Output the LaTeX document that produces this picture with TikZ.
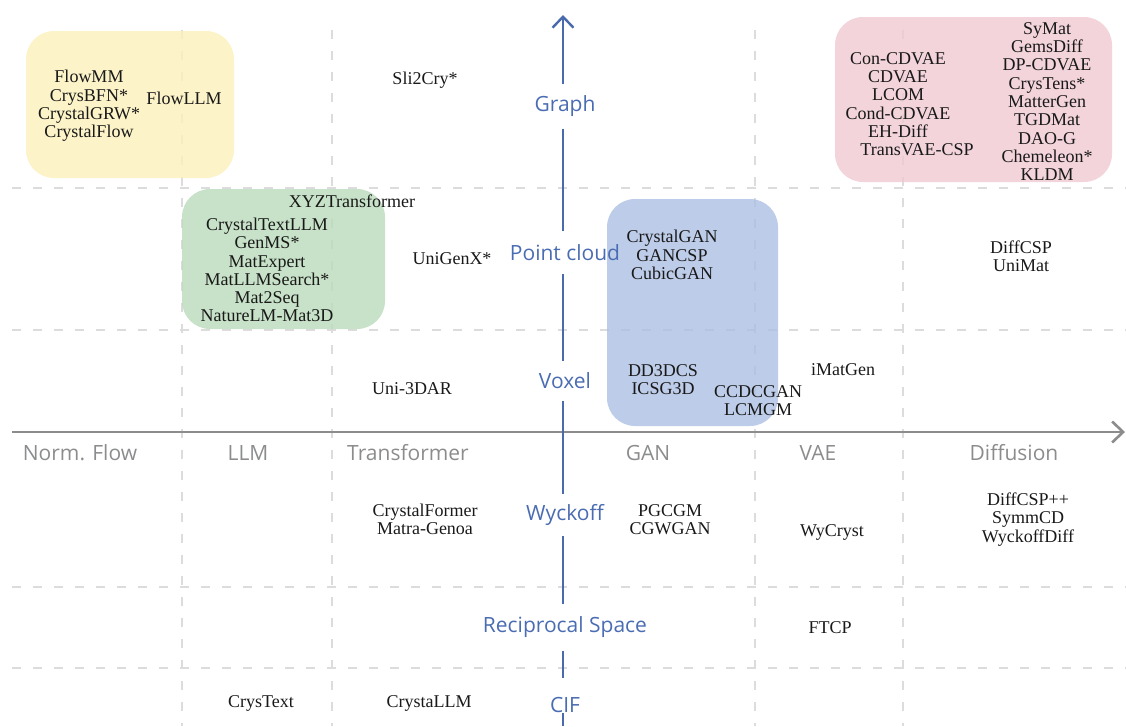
\documentclass[tikz,border=0pt]{standalone}
\usepackage{fontspec}
\setmainfont{Liberation Serif}
\newfontfamily\labfont{Open Sans}
\usetikzlibrary{arrows.meta}
\definecolor{gridc}{HTML}{DCDCDC}
\definecolor{haxis}{HTML}{8C8C8C}
\definecolor{vaxis}{HTML}{4A6AAE}
\definecolor{vlab}{HTML}{4A6CB2}
\definecolor{hlab}{HTML}{8A8C8E}
\definecolor{boxY}{HTML}{FCF0BA}
\definecolor{boxG}{HTML}{B9DBBA}
\definecolor{boxB}{HTML}{ACBFE2}
\definecolor{boxP}{HTML}{EFC9D1}
\begin{document}
\begin{tikzpicture}[x=1pt,y=-1pt,
  gridline/.style={draw=gridc, line width=2pt, dash pattern=on 9pt off 12pt},
  grpbox/.style={rounded corners=28pt, fill opacity=0.8, draw=none},
  model/.style={align=center, font=\fontsize{18}{18.3}\selectfont, inner sep=0pt, text=black!90},
  ylab/.style={font=\labfont\fontsize{21}{24}\selectfont, text=vlab, inner sep=0pt, minimum height=43pt},
  xlab/.style={font=\labfont\fontsize{21}{24}\selectfont, text=hlab, inner sep=0pt},
  yax/.style={draw=vaxis, line width=2.4pt},
  xax/.style={draw=haxis, line width=2.6pt}]
\useasboundingbox (0,0) rectangle (1126,726);
% grid
\foreach \gx in {182,332,755,903} \draw[gridline] (\gx,30) -- (\gx,726);
\foreach \gy in {188,330,587,668} \draw[gridline] (12,\gy) -- (1126,\gy);
% group boxes
\fill[grpbox, boxY] (26,31) rectangle (234,178);
\fill[grpbox, boxG] (182,189) rectangle (385,329);
\fill[grpbox, boxB] (607,199) rectangle (778,426);
\fill[grpbox, boxP] (835,17) rectangle (1112,182);
% horizontal axis
\coordinate (xl) at (12,432);
\coordinate (xr) at (1125,432);
\draw[xax, -{Straight Barb[length=11pt,width=21pt]}] (xl) -- (xr);
% vertical axis labels
\coordinate (ytop) at (563,15);
\coordinate (ybot) at (563,726);
\node[ylab, minimum height=44pt] (graph) at (565,106.5) {Graph};
\node[ylab] (pc) at (565,252.5) {Point cloud};
\node[ylab, minimum height=40pt] (vox) at (565,381) {Voxel};
\node[ylab, minimum height=42pt] (wy) at (565,515) {Wyckoff};
\node[ylab, minimum height=46pt] (rs) at (565,627.5) {Reciprocal Space};
\node[inner sep=0pt, minimum height=35pt, minimum width=20pt] (cifgap) at (563,695.5) {};
\node[ylab, minimum height=0pt] (cif) at (565,705) {CIF};
\draw[yax, -{Straight Barb[length=11pt,width=21pt]}] (graph.north -| ytop) -- (ytop);
\draw[yax] (graph.south -| ytop) -- (pc.north -| ytop);
\draw[yax] (pc.south -| ytop) -- (vox.north -| ytop);
\draw[yax] (vox.south -| ytop) -- (wy.north -| ytop);
\draw[yax] (wy.south -| ytop) -- (rs.north -| ytop);
\draw[yax] (rs.south -| ytop) -- (cifgap.north);
\draw[yax] (cifgap.south) -- (ybot);
% horizontal axis labels
\node[xlab] (nf) at (80,453) {Norm. Flow};
\node[xlab] (llm) at (248,453) {LLM};
\node[xlab] (tr) at (408,453) {Transformer};
\node[xlab] (gan) at (648,453) {GAN};
\node[xlab] (vae) at (818,453) {VAE};
\node[xlab] (dif) at (1014,453) {Diffusion};
% models
\node[model] (m1) at (89,106) {FlowMM\\CrysBFN*\\CrystalGRW*\\CrystalFlow};
\node[model] (m2) at (184,98) {FlowLLM};
\node[model] (m3) at (425,80) {Sli2Cry*};
\node[model] (m4) at (898,95) {Con-CDVAE\\CDVAE\\LCOM\\Cond-CDVAE\\EH-Diff};
\node[model] (m5) at (917,150) {TransVAE-CSP};
\node[model] (m6) at (1047,101.5) {SyMat\\GemsDiff\\DP-CDVAE\\CrysTens*\\MatterGen\\TGDMat\\DAO-G\\Chemeleon*\\KLDM};
\node[model] (m7) at (352,201) {XYZTransformer};
\node[model] (m8) at (267,270) {CrystalTextLLM\\GenMS*\\MatExpert\\MatLLMSearch*\\Mat2Seq\\NatureLM-Mat3D};
\node[model] (m9) at (452,259) {UniGenX*};
\node[model] (m10) at (672,255) {CrystalGAN\\GANCSP\\CubicGAN};
\node[model] (m11) at (1021,256) {DiffCSP\\UniMat};
\node[model] (m12) at (663,379.5) {DD3DCS\\ICSG3D};
\node[model] (m13) at (758,400.5) {CCDCGAN\\LCMGM};
\node[model] (m14) at (843,370) {iMatGen};
\node[model] (m15) at (412,389) {Uni-3DAR};
\node[model] (m16) at (425,519.5) {CrystalFormer\\Matra-Genoa};
\node[model] (m17) at (670,519.5) {PGCGM\\CGWGAN};
\node[model] (m18) at (832,532) {WyCryst};
\node[model] (m19) at (1028,519.5) {DiffCSP++\\SymmCD\\WyckoffDiff};
\node[model] (m20) at (830,628) {FTCP};
\node[model] (m21) at (261,703) {CrysText};
\node[model] (m22) at (429,703) {CrystaLLM};
\end{tikzpicture}
\end{document}
